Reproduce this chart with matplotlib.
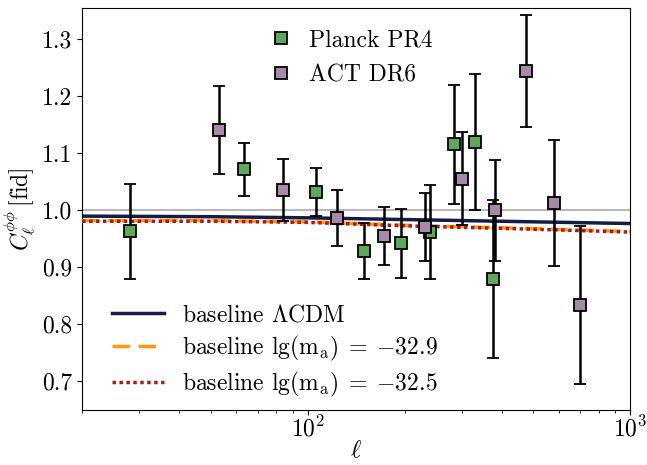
import numpy as np
import matplotlib
matplotlib.use("Agg")
import matplotlib.pyplot as plt
from matplotlib.lines import Line2D

plt.rcParams['font.family'] = 'serif'
plt.rcParams['font.serif'] = ['cmr10']
plt.rcParams['mathtext.fontset'] = 'cm'
plt.rcParams['axes.formatter.use_mathtext'] = True

# Planck PR4 bandpowers (ratio to fiducial)
planck_ell = [28.2, 63.7, 106, 150, 195, 240, 285, 330, 376]
planck_val = [0.962, 1.071, 1.032, 0.928, 0.941, 0.961, 1.115, 1.119, 0.879]
planck_err = [0.083, 0.046, 0.042, 0.049, 0.060, 0.082, 0.104, 0.119, 0.139]

# ACT DR6 bandpowers
act_ell = [53.3, 83.8, 122.9, 172, 231.6, 301.6, 381, 475, 578.6, 696.7]
act_val = [1.140, 1.035, 0.986, 0.954, 0.970, 1.055, 0.999, 1.244, 1.012, 0.833]
act_err = [0.077, 0.054, 0.049, 0.051, 0.060, 0.081, 0.089, 0.098, 0.110, 0.139]

# model curves (ratio to fiducial)
model_ell = [20, 50, 100, 200, 500, 1000]
lcdm = [0.989, 0.988, 0.986, 0.983, 0.979, 0.976]
axion_329 = [0.981, 0.981, 0.979, 0.973, 0.967, 0.962]
axion_325 = [0.980, 0.980, 0.978, 0.972, 0.966, 0.961]

planck_col = '#5ea85a'
act_col = '#a68aa8'

fig, ax = plt.subplots(figsize=(6.47, 4.65), dpi=100)
fig.subplots_adjust(left=0.127, right=0.974, top=0.983, bottom=0.118)

ax.axhline(1.0, color='#aaaaaa', lw=1.2, zorder=1)

l1, = ax.plot(model_ell, lcdm, color='#161c46', lw=2.5, zorder=2)
l2, = ax.plot(model_ell, axion_329, color='#ff9a10', lw=2.5, ls=(0, (5, 2.5)), zorder=3)
l3, = ax.plot(model_ell, axion_325, color='#a51c1c', lw=2.5, ls=(0, (1, 1)), zorder=4)

ax.errorbar(planck_ell, planck_val, yerr=planck_err, fmt='s', color='k',
            mfc=planck_col, mec='k', ms=9, mew=1.3, ecolor='k', elinewidth=1.8,
            capsize=4, capthick=1.6, zorder=5)
ax.errorbar(act_ell, act_val, yerr=act_err, fmt='s', color='k',
            mfc=act_col, mec='k', ms=9, mew=1.3, ecolor='k', elinewidth=1.8,
            capsize=4, capthick=1.6, zorder=6)

ax.set_xscale('log')
ax.set_xlim(20, 1000)
ax.set_ylim(0.648, 1.355)
ax.set_yticks([0.7, 0.8, 0.9, 1.0, 1.1, 1.2, 1.3])
ax.set_yticklabels(['0.7', '0.8', '0.9', '1.0', '1.1', '1.2', '1.3'])
ax.tick_params(labelsize=17, length=3.5)
ax.tick_params(axis='x', pad=1)
ax.tick_params(which='minor', length=2)
ax.set_xlabel(r'$\ell$', fontsize=18, labelpad=-1)
ax.set_ylabel(r'$C_\ell^{\phi\phi}\,$[fid]', fontsize=17)

h1 = Line2D([], [], marker='s', ls='none', mfc=planck_col, mec='k', ms=9, mew=1.3)
h2 = Line2D([], [], marker='s', ls='none', mfc=act_col, mec='k', ms=9, mew=1.3)
leg1 = ax.legend([h1, h2], ['Planck PR4', 'ACT DR6'], loc='upper center',
                 frameon=False, fontsize=17, handletextpad=0.2, labelspacing=0.55,
                 bbox_to_anchor=(0.48, 1.0))
ax.add_artist(leg1)
ax.legend([l1, l2, l3], [r'baseline $\Lambda$CDM',
                         r'baseline $\mathrm{lg(m_a)}\;=\;{-}32.9$',
                         r'baseline $\mathrm{lg(m_a)}\;=\;{-}32.5$'],
          loc='lower left', frameon=False, fontsize=17, handlelength=2.2,
          labelspacing=0.3, bbox_to_anchor=(0.015, -0.025))

fig.savefig('out.png', dpi=100)
